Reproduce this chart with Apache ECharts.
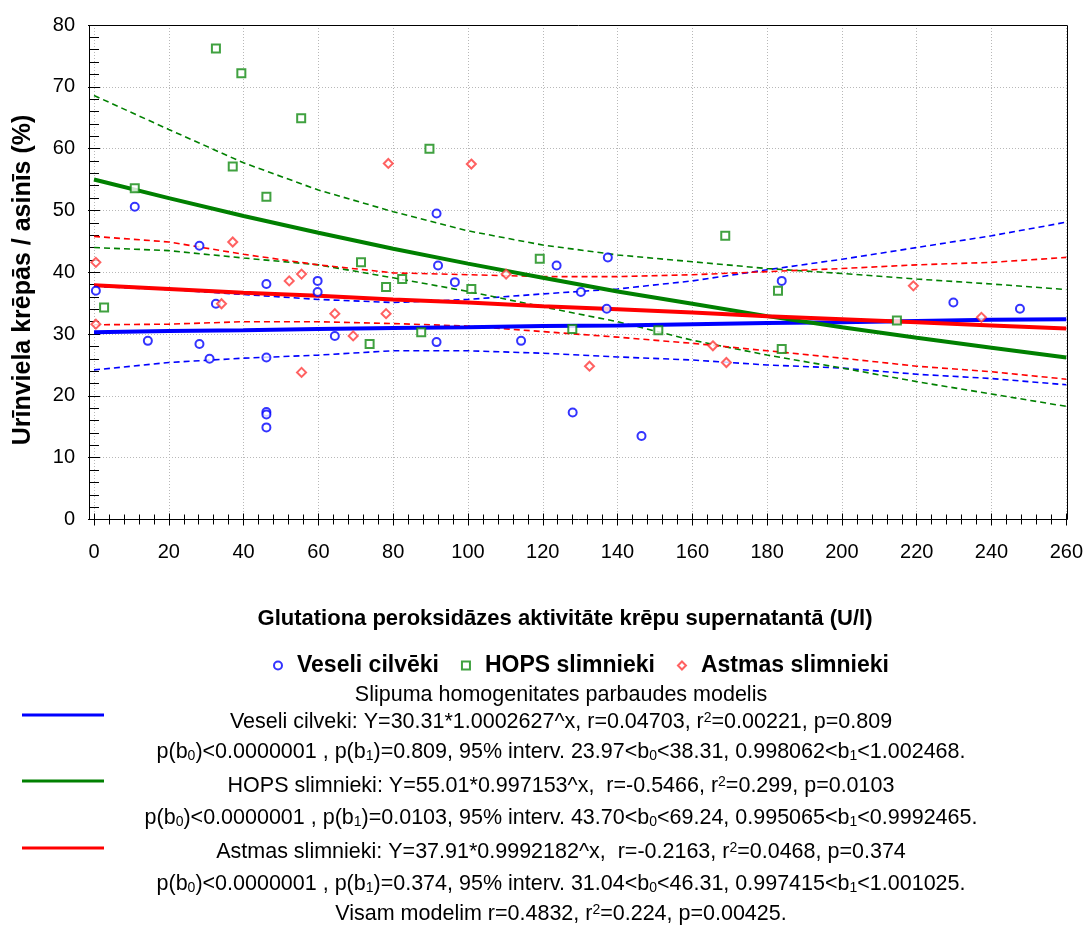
<!DOCTYPE html>
<html>
<head>
<meta charset="utf-8">
<script src="https://cdn.jsdelivr.net/npm/echarts@6/dist/echarts.min.js"></script>
<style>
html,body{margin:0;padding:0;background:#fff;}
#chart{width:1086px;height:927px;}
</style>
</head>
<body>
<div id="chart"></div>
<script>
// ---- data ----
var xTicks = [0,20,40,60,80,100,120,140,160,180,200,220,240,260];
var yTicks = [0,10,20,30,40,50,60,70,80];

var veseliX = [10.9,28.2,0.5,14.4,28.2,32.6,30.9,46.1,46.1,46.1,46.1,46.1,59.8,59.8,64.4,91.6,92.0,123.7,137.4,96.5,130.2,137.1,91.6,114.2,128.0,146.4,183.9,229.8,247.6];
var veseliY = [50.6,44.3,37.0,28.9,28.4,34.9,26.0,38.1,26.2,17.4,17.0,14.9,38.6,36.8,29.7,49.5,41.1,41.1,42.4,38.4,36.8,34.1,28.7,28.9,17.3,13.5,38.6,35.1,34.1];

var hopsX = [32.6,39.4,55.4,37.1,46.1,10.9,71.4,89.7,119.2,168.8,2.7,73.7,78.1,82.4,100.9,87.5,127.9,150.9,182.9,214.7,183.9];
var hopsY = [76.2,72.2,64.9,57.1,52.2,53.6,41.6,60.0,42.2,45.9,34.3,28.4,37.6,38.9,37.3,30.3,30.8,30.6,37.0,32.2,27.6];

var astmasX = [0.5,0.5,37.1,78.7,100.9,34.1,52.2,55.5,55.5,64.4,69.3,78.1,110.2,132.5,165.5,169.1,219.1,237.3];
var astmasY = [41.6,31.6,44.9,57.6,57.5,34.9,38.6,39.7,23.8,33.3,29.7,33.3,39.7,24.8,28.1,25.4,37.8,32.7];

// fitted curves and 95% bands, read at x = 0,20,...,260
var curveX = [0,20,40,60,80,100,120,140,160,180,200,220,240,260];
var veseliFit   = [30.3,30.5,30.6,30.8,31.0,31.1,31.3,31.4,31.6,31.8,31.9,32.1,32.3,32.4];
var veseliUpper = [37.7,37.2,36.4,35.6,35.1,35.6,36.5,37.3,38.6,40.4,42.1,44.0,45.9,48.1];
var veseliLower = [24.2,25.4,26.1,26.6,27.3,27.3,26.9,26.3,25.8,25.0,24.5,23.5,22.8,21.8];
var hopsFit   = [55.0,52.0,49.1,46.4,43.8,41.4,39.1,36.9,34.9,32.9,31.1,29.4,27.8,26.2];
var hopsUpper = [68.6,63.1,57.7,53.3,49.8,46.7,44.4,42.8,41.7,40.6,39.8,38.9,38.1,37.2];
var hopsLower = [44.0,43.5,42.3,41.2,39.1,36.9,34.4,32.0,29.0,26.6,24.5,22.3,20.3,18.3];
var astmasFit   = [37.9,37.3,36.7,36.2,35.6,35.1,34.5,34.0,33.5,32.9,32.4,31.9,31.4,30.9];
var astmasUpper = [45.8,44.9,42.9,41.2,39.9,39.6,39.3,39.3,39.6,40.1,40.6,41.2,41.6,42.4];
var astmasLower = [31.5,31.6,32.0,32.0,31.7,31.3,30.4,29.5,28.5,27.3,26.1,24.8,23.9,22.7];

var seriesNames = ['Veseli cilvēki','HOPS slimnieki','Astmas slimnieki'];
var xTitle = 'Glutationa peroksidāzes aktivitāte krēpu supernatantā (U/l)';
var yTitle = 'Urīnviela krēpās / asinīs (%)';

var statLines = [
  'Slipuma homogenitates parbaudes modelis',
  'Veseli cilveki: Y=30.31*1.0002627^x, r=0.04703, r{sup|2}=0.00221, p=0.809',
  'p(b{sub|0})<0.0000001 , p(b{sub|1})=0.809, 95% interv. 23.97<b{sub|0}<38.31, 0.998062<b{sub|1}<1.002468.',
  'HOPS slimnieki: Y=55.01*0.997153^x,  r=-0.5466, r{sup|2}=0.299, p=0.0103',
  'p(b{sub|0})<0.0000001 , p(b{sub|1})=0.0103, 95% interv. 43.70<b{sub|0}<69.24, 0.995065<b{sub|1}<0.9992465.',
  'Astmas slimnieki: Y=37.91*0.9992182^x,  r=-0.2163, r{sup|2}=0.0468, p=0.374',
  'p(b{sub|0})<0.0000001 , p(b{sub|1})=0.374, 95% interv. 31.04<b{sub|0}<46.31, 0.997415<b{sub|1}<1.001025.',
  'Visam modelim r=0.4832, r{sup|2}=0.224, p=0.00425.'
];

// ---- helpers ----
function pairs(xs, ys){ return xs.map(function(x,i){ return [x, ys[i]]; }); }
var BLUE = '#0000ff', GREEN = '#008000', RED = '#ff0000';
var FONT = 'Liberation Sans, Arial, sans-serif';

function fitSeries(ys, color){
  return {type:'line', data:pairs(curveX, ys), showSymbol:false, symbol:'none',
    lineStyle:{color:color, width:4}, z:3, silent:true, animation:false};
}
function bandSeries(ys, color){
  return {type:'line', data:pairs(curveX, ys), showSymbol:false, symbol:'none',
    lineStyle:{color:color, width:1.6, type:[6,4]}, z:2, silent:true, animation:false};
}

var statRowY = [695, 722, 752, 786, 818, 852, 884, 914];
var graphics = [
  {type:'rect', shape:{x:89.5, y:25.5, width:978, height:494}, style:{fill:'none', stroke:'#000', lineWidth:1}, z:100, silent:true},
  {type:'line', shape:{x1:22, y1:715, x2:104, y2:715}, style:{stroke:BLUE, lineWidth:3}},
  {type:'line', shape:{x1:22, y1:781, x2:104, y2:781}, style:{stroke:GREEN, lineWidth:3}},
  {type:'line', shape:{x1:22, y1:848, x2:104, y2:848}, style:{stroke:RED, lineWidth:3}},
  {type:'text', x:565, y:619, style:{text:xTitle, fill:'#000', fontSize:22, fontWeight:'bold', fontFamily:FONT, align:'center', verticalAlign:'middle'}},
  {type:'text', x:23, y:280, rotation:Math.PI/2, style:{text:yTitle, fill:'#000', fontSize:25, fontWeight:'bold', fontFamily:FONT, align:'center', verticalAlign:'middle'}}
];
statLines.forEach(function(t, i){
  graphics.push({type:'text', x:561, y:statRowY[i], style:{
    text:t, fill:'#000', fontSize:21.5, fontFamily:FONT, align:'center', verticalAlign:'middle',
    rich:{
      sub:{fontSize:14, fontFamily:FONT, verticalAlign:'bottom', fill:'#000'},
      sup:{fontSize:14, fontFamily:FONT, verticalAlign:'top', fill:'#000'}
    }
  }});
});

var axisLabelStyle = {color:'#000', fontSize:20, fontFamily:FONT};

var option = {
  animation:false,
  backgroundColor:'#fff',
  grid:{left:94, right:18, top:25, bottom:407.5, containLabel:false},
  legend:{
    data:seriesNames, top:649, left:268, itemWidth:8, itemHeight:8, itemGap:22,
    itemStyle:{borderWidth:1.3},
    textStyle:{color:'#000', fontSize:23, fontWeight:'bold', fontFamily:FONT, padding:[0,0,0,10]}
  },
  xAxis:[
    {type:'value', position:'bottom', min:0, max:260, interval:20,
     axisLine:{show:false}, axisTick:{show:true, inside:true, length:6, lineStyle:{color:'#000'}},
     minorTick:{show:true, splitNumber:5, length:5, lineStyle:{color:'#000'}},
     axisLabel:Object.assign({margin:23, formatter:function(v){ return xTicks.indexOf(v) >= 0 ? String(v) : ''; }}, axisLabelStyle),
     splitLine:{show:true, lineStyle:{color:'#b8b8b8', type:[1,2], width:1}}},
    {type:'value', position:'top', min:0, max:260, interval:20,
     axisLine:{show:false}, axisTick:{show:true, inside:true, length:6, lineStyle:{color:'#000'}},
     minorTick:{show:true, splitNumber:5, length:5, lineStyle:{color:'#000'}},
     axisLabel:{show:false}, splitLine:{show:false}}
  ],
  yAxis:[
    {type:'value', position:'left', offset:5, min:0, max:80, interval:10,
     axisLine:{show:false}, axisTick:{show:true, inside:true, length:6, lineStyle:{color:'#000'}},
     minorTick:{show:true, splitNumber:5, length:5, lineStyle:{color:'#000'}},
     axisLabel:Object.assign({margin:14, formatter:function(v){ return yTicks.indexOf(v) >= 0 ? String(v) : ''; }}, axisLabelStyle),
     splitLine:{show:true, lineStyle:{color:'#b8b8b8', type:[1,2], width:1}}},
    {type:'value', position:'right', min:0, max:80, interval:10,
     axisLine:{show:false}, axisTick:{show:true, inside:true, length:6, lineStyle:{color:'#000'}},
     minorTick:{show:true, splitNumber:5, length:5, lineStyle:{color:'#000'}},
     axisLabel:{show:false}, splitLine:{show:false}}
  ],
  graphic:graphics,
  series:[
    bandSeries(veseliUpper, BLUE), bandSeries(veseliLower, BLUE),
    bandSeries(hopsUpper, GREEN), bandSeries(hopsLower, GREEN),
    bandSeries(astmasUpper, RED), bandSeries(astmasLower, RED),
    fitSeries(veseliFit, BLUE), fitSeries(hopsFit, GREEN), fitSeries(astmasFit, RED),
    {name:seriesNames[0], type:'scatter', data:pairs(veseliX, veseliY), symbol:'emptyCircle', symbolSize:8,
     itemStyle:{color:BLUE, borderColor:BLUE, borderWidth:1.5}, z:5},
    {name:seriesNames[1], type:'scatter', data:pairs(hopsX, hopsY), symbol:'emptyRect', symbolSize:8,
     itemStyle:{color:'#108a10', borderColor:'#108a10', borderWidth:1.5}, z:5},
    {name:seriesNames[2], type:'scatter', data:pairs(astmasX, astmasY), symbol:'emptyDiamond', symbolSize:9,
     itemStyle:{color:'#ff3a3a', borderColor:'#ff3a3a', borderWidth:1.2}, z:5}
  ]
};
var chart = echarts.init(document.getElementById('chart'), null, {renderer:'canvas'});
chart.setOption(option);
</script>
</body>
</html>
